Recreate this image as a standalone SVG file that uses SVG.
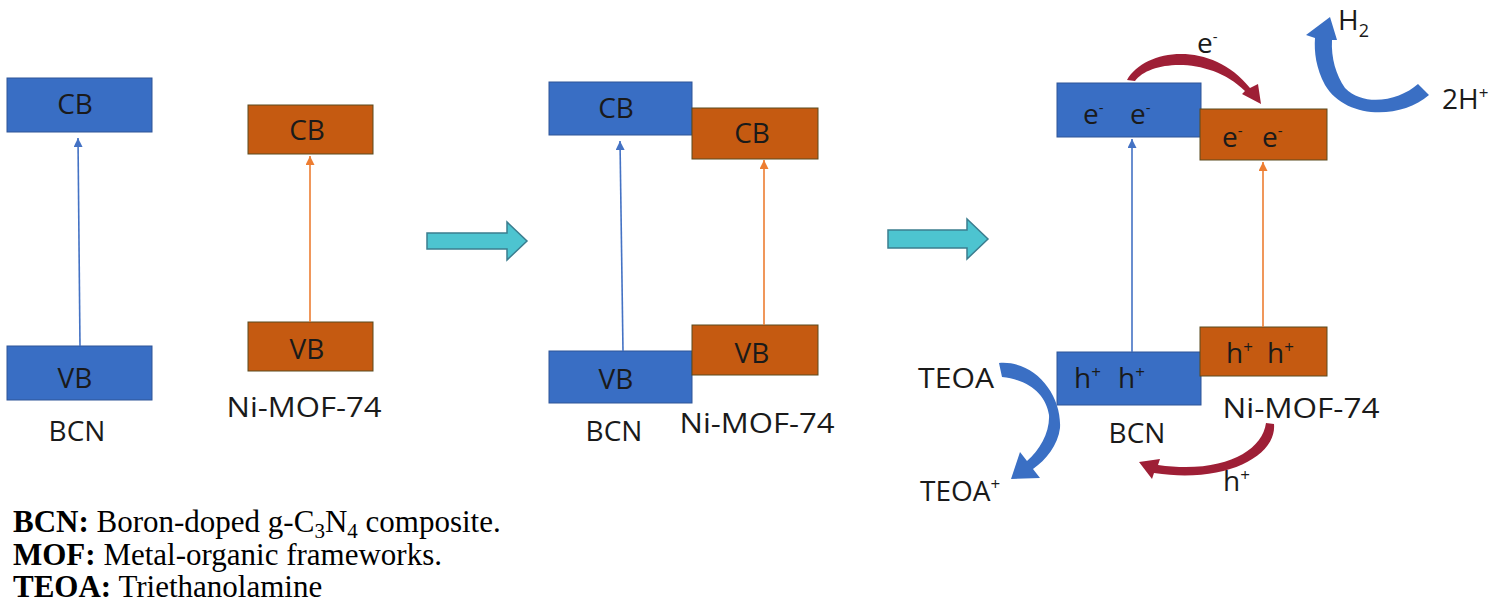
<svg xmlns="http://www.w3.org/2000/svg" width="1507" height="610" viewBox="0 0 1507 610">
  <style>
    .lbl { font-family: "Open Sans", "Noto Sans", sans-serif; font-size: 28px; fill: #1a1a1a; }
    .mid { text-anchor: middle; }
    .bcn { fill: #396ec4; stroke: #2f5597; stroke-width: 1; }
    .mof { fill: #c55a11; stroke: #5a4a1e; stroke-width: 1; }
    .exB { stroke: #4472c4; stroke-width: 1.6; fill: none; }
    .exO { stroke: #ed7d31; stroke-width: 1.6; fill: none; }
    .step { fill: #4dc4d0; stroke: #3b7d8f; stroke-width: 1.5; }
    .flowB { fill: #3a6fc4; }
    .flowR { fill: #9e1f36; }
    .leg { font-family: "Liberation Serif", "Times New Roman", serif; font-size: 31px; fill: #000; }
  </style>
  <defs>
    <marker id="hB" viewBox="0 0 10 10" refX="10" refY="5" markerWidth="9" markerHeight="9" markerUnits="userSpaceOnUse" orient="auto">
      <path d="M0,0 L10,5 L0,10 Z" fill="#4472c4"/>
    </marker>
    <marker id="hO" viewBox="0 0 10 10" refX="10" refY="5" markerWidth="9" markerHeight="9" markerUnits="userSpaceOnUse" orient="auto">
      <path d="M0,0 L10,5 L0,10 Z" fill="#ed7d31"/>
    </marker>
  </defs>

  <rect width="1507" height="610" fill="#ffffff"/>

  <!-- Separate semiconductors -->
  <g id="bcn-cb-1"><rect class="bcn" x="7" y="78" width="145" height="54"/><text class="lbl mid" x="75" y="114">CB</text></g>
  <g id="bcn-vb-1"><rect class="bcn" x="7" y="346" width="145" height="54"/><text class="lbl mid" x="75" y="388">VB</text></g>
  <g id="bcn-label-1"><text class="lbl mid" x="77" y="441">BCN</text></g>
  <g id="mof-cb-1"><rect class="mof" x="248" y="105" width="125" height="49"/><text class="lbl mid" x="307" y="140">CB</text></g>
  <g id="mof-vb-1"><rect class="mof" x="248" y="322" width="125" height="49"/><text class="lbl mid" x="307" y="359">VB</text></g>
  <g id="mof-label-1"><text class="lbl mid" x="304" y="417" textLength="155" lengthAdjust="spacingAndGlyphs">Ni-MOF-74</text></g>

  <!-- Heterojunction -->
  <g id="bcn-cb-2"><rect class="bcn" x="549" y="82" width="143" height="53"/><text class="lbl mid" x="616" y="118">CB</text></g>
  <g id="bcn-vb-2"><rect class="bcn" x="549" y="351" width="143" height="52"/><text class="lbl mid" x="616" y="389">VB</text></g>
  <g id="bcn-label-2"><text class="lbl mid" x="614" y="441">BCN</text></g>
  <g id="mof-cb-2"><rect class="mof" x="692" y="108" width="126" height="51"/><text class="lbl mid" x="752" y="143">CB</text></g>
  <g id="mof-vb-2"><rect class="mof" x="692" y="325" width="126" height="50"/><text class="lbl mid" x="752" y="363">VB</text></g>
  <g id="mof-label-2"><text class="lbl mid" x="757" y="433" textLength="155" lengthAdjust="spacingAndGlyphs">Ni-MOF-74</text></g>

  <!-- Photocatalytic mechanism -->
  <g id="bcn-cb-3"><rect class="bcn" x="1057" y="83" width="144" height="54"/>
    <text class="lbl" y="124"><tspan x="1083">e</tspan><tspan dy="-11" font-size="15">-</tspan><tspan x="1130" dy="11">e</tspan><tspan dy="-11" font-size="15">-</tspan></text></g>
  <g id="mof-cb-3"><rect class="mof" x="1200" y="109" width="127" height="51"/>
    <text class="lbl" y="147"><tspan x="1222">e</tspan><tspan dy="-11" font-size="15">-</tspan><tspan x="1262" dy="11">e</tspan><tspan dy="-11" font-size="15">-</tspan></text></g>
  <g id="bcn-vb-3"><rect class="bcn" x="1057" y="352" width="144" height="53"/>
    <text class="lbl" y="388"><tspan x="1074">h</tspan><tspan dy="-10" font-size="17">+</tspan><tspan x="1118" dy="10">h</tspan><tspan dy="-10" font-size="17">+</tspan></text></g>
  <g id="mof-vb-3"><rect class="mof" x="1200" y="327" width="127" height="49"/>
    <text class="lbl" y="363"><tspan x="1226">h</tspan><tspan dy="-10" font-size="17">+</tspan><tspan x="1267" dy="10">h</tspan><tspan dy="-10" font-size="17">+</tspan></text></g>
  <g id="bcn-label-3"><text class="lbl mid" x="1137" y="443">BCN</text></g>
  <g id="mof-label-3"><text class="lbl mid" x="1301" y="418" textLength="157" lengthAdjust="spacingAndGlyphs">Ni-MOF-74</text></g>
  <g id="teoa"><text class="lbl" x="918" y="388" textLength="76" lengthAdjust="spacingAndGlyphs">TEOA</text></g>
  <g id="teoa-ox"><text class="lbl" x="920" y="501">TEOA<tspan dy="-11" font-size="17">+</tspan></text></g>
  <g id="e-transfer-label"><text class="lbl" x="1197" y="53">e<tspan dy="-11" font-size="15">-</tspan></text></g>
  <g id="h-transfer-label"><text class="lbl" x="1223" y="491">h<tspan dy="-10" font-size="17">+</tspan></text></g>
  <g id="h2"><text class="lbl" x="1338" y="30">H<tspan dy="7" font-size="18">2</tspan></text></g>
  <g id="protons"><text class="lbl" x="1442" y="109">2H<tspan dy="-10" font-size="17">+</tspan></text></g>

  <!-- Connectors -->
  <g id="connectors">
    <!-- band-gap excitation -->
    <line class="exB" x1="80" y1="346" x2="78" y2="138" marker-end="url(#hB)"/>
    <line class="exO" x1="310" y1="322" x2="310" y2="156" marker-end="url(#hO)"/>
    <line class="exB" x1="623" y1="351" x2="620" y2="141" marker-end="url(#hB)"/>
    <line class="exO" x1="764" y1="325" x2="764" y2="160" marker-end="url(#hO)"/>
    <line class="exB" x1="1132" y1="352" x2="1132" y2="139" marker-end="url(#hB)"/>
    <line class="exO" x1="1263" y1="327" x2="1263" y2="162" marker-end="url(#hO)"/>

    <!-- step arrows -->
    <path class="step" d="M427,233 L507,233 L507,222 L527,241 L507,260 L507,249 L427,249 Z"/>
    <path class="step" d="M888,230 L967,230 L967,219 L988,239 L967,259 L967,248 L888,248 Z"/>

    <!-- electron transfer BCN CB -> MOF CB -->
    <path class="flowR" d="M1127,80 C1145,48 1212,40 1250,88 L1258,84 L1261,104 L1242,94 L1245,91 C1210,56 1150,60 1135,81 Z"/>
    <!-- hole transfer MOF VB -> BCN VB -->
    <path class="flowR" d="M1266,423 L1274,424 C1277,456 1225,484 1154,473 L1152,479 L1139,462 L1160,459 L1158,465 C1222,474 1262,452 1266,423 Z"/>
    <!-- 2H+ -> H2 -->
    <path class="flowB" d="M1429,95 C1400,120 1345,119 1325,85 C1316,68 1314,52 1315,38 L1306,35 L1330,17 L1337,40 L1332,40 C1331,58 1336,75 1345,88 C1365,108 1400,100 1418,84 Z"/>
    <!-- TEOA -> TEOA+ -->
    <path class="flowB" d="M999,363 C1035,360 1062,395 1060,428 C1058,445 1046,460 1033,469 L1040,478 L1011,479 L1020,452 L1027,461 C1040,450 1050,432 1049,415 C1046,395 1030,380 1002,377 Z"/>
  </g>

  <!-- Abbreviations -->
  <g id="legend">
    <text class="leg" x="13" y="532"><tspan font-weight="bold">BCN:</tspan> Boron-doped g-C<tspan dy="6" font-size="21">3</tspan><tspan dy="-6">N</tspan><tspan dy="6" font-size="21">4</tspan><tspan dy="-6"> composite.</tspan></text>
    <text class="leg" x="13" y="565"><tspan font-weight="bold">MOF:</tspan> Metal-organic frameworks.</text>
    <text class="leg" x="13" y="597"><tspan font-weight="bold">TEOA:</tspan> Triethanolamine</text>
  </g>
</svg>
